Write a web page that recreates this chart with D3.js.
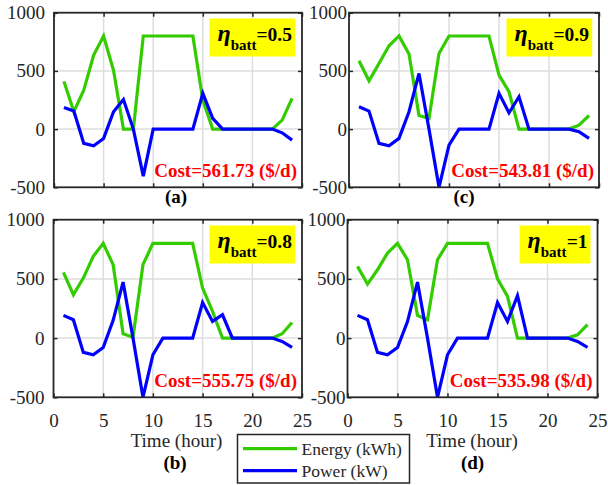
<!DOCTYPE html>
<html><head><meta charset="utf-8"><script src="https://cdn.jsdelivr.net/npm/d3@7"></script></head>
<body style="margin:0">
<svg id="chart" width="608" height="485"></svg>
<script>
// ---------------- data ----------------
const hours = [1,2,3,4,5,6,7,8,9,10,11,12,13,14,15,16,17,18,19,20,21,22,23,24];
const xTicks = [0,5,10,15,20,25];
const yTicks = [-500,0,500,1000];
const yTickLabels = ["-500","0","500","1000"];

const energyA = [410,150,335,636,800,505,0,0,800,800,800,800,800,800,250,0,0,0,0,0,0,0,77,264];
const powerA  = [185,155,-123,-143,-80,149,255,0,-404,0,0,0,0,0,307,92,0,0,0,0,0,0,-32,-95];

const energyB = [555,366,507,690,800,620,37,8,620,800,800,800,800,800,423,225,0,0,0,0,0,0,37,132];
const powerB  = [192,155,-121,-141,-79,150,473,0,-500,-141,0,0,0,0,301,141,197,0,0,0,0,0,-28,-79];

const energyC = [587,415,564,716,800,645,117,92,650,800,800,800,800,800,464,321,0,0,0,0,0,0,34,117];
const powerC  = [192,155,-123,-143,-80,149,478,0,-500,-137,0,0,0,0,307,140,278,0,0,0,0,0,-23,-80];

const energyD = [606,456,577,718,800,662,192,155,662,800,800,800,800,800,501,352,0,0,0,0,0,0,28,113];
const powerD  = [192,155,-121,-141,-79,140,473,0,-500,-141,0,0,0,0,301,141,358,0,0,0,0,0,-28,-79];

const panelLetters = ["(a)","(b)","(c)","(d)"];
const etaValues = ["0.5","0.8","0.9","1"];
const costValues = ["561.73","555.75","543.81","535.98"];
const seriesNames = ["Energy (kWh)","Power (kW)"];
const xLabel = "Time (hour)";

// ---------------- layout ----------------
const FONT = "Liberation Serif";
const GREEN = "#33cc00", BLUE = "#0000ff", AXIS = "#262626", GRID = "#dedede";
const panels = [
  {x0:54,   x1:302,   y0:12.7,  y1:187.3, energy:energyA, power:powerA, xlabels:false, letter:{x:176, y:203}},
  {x0:53.5, x1:302,   y0:219.7, y1:397.3, energy:energyB, power:powerB, xlabels:true,  letter:{x:175, y:469}, title:{x:176.5, y:447}},
  {x0:349,  x1:599,   y0:12.7,  y1:187.3, energy:energyC, power:powerC, xlabels:false, letter:{x:464, y:203}},
  {x0:347.5,x1:597.5, y0:219.7, y1:397.3, energy:energyD, power:powerD, xlabels:true,  letter:{x:472.5, y:469}, title:{x:472, y:447}}
];

const svg = d3.select("#chart");

function txt(sel, size, weight) {
  return sel.attr("font-family", FONT).attr("font-size", size).attr("font-weight", weight || "normal");
}

panels.forEach((p, i) => {
  const x = d3.scaleLinear().domain([0,25]).range([p.x0, p.x1]);
  const y = d3.scaleLinear().domain([-500,1000]).range([p.y1, p.y0]);
  const g = svg.append("g");

  // grid
  g.selectAll(".gx").data(xTicks.slice(1,-1)).enter().append("line")
    .attr("x1", d=>x(d)).attr("x2", d=>x(d)).attr("y1", p.y0).attr("y2", p.y1)
    .attr("stroke", GRID).attr("stroke-width", 1.5);
  g.selectAll(".gy").data(yTicks.slice(1,-1)).enter().append("line")
    .attr("y1", d=>y(d)).attr("y2", d=>y(d)).attr("x1", p.x0).attr("x2", p.x1)
    .attr("stroke", GRID).attr("stroke-width", 1.5);

  // axes via d3 (ticks inward)
  const axL = d3.axisLeft(y).tickValues(yTicks).tickSize(-4).tickPadding(9)
    .tickFormat((d,k)=>yTickLabels[k]);
  const axR = d3.axisRight(y).tickValues(yTicks).tickSize(-4).tickFormat("");
  const axB = d3.axisBottom(x).tickValues(xTicks).tickSize(-4).tickPadding(16)
    .tickFormat(d => p.xlabels ? String(d) : "");
  const axT = d3.axisTop(x).tickValues(xTicks).tickSize(-4).tickFormat("");

  const gl = g.append("g").attr("transform", `translate(${p.x0},0)`).call(axL);
  const gr = g.append("g").attr("transform", `translate(${p.x1},0)`).call(axR);
  const gb = g.append("g").attr("transform", `translate(0,${p.y1})`).call(axB);
  const gt = g.append("g").attr("transform", `translate(0,${p.y0})`).call(axT);
  [gl,gr,gb,gt].forEach(a => {
    txt(a, 19);
    a.select(".domain").remove();
    a.selectAll(".tick line").attr("stroke", AXIS).attr("stroke-width", 1.5);
    txt(a.selectAll("text"), 19).attr("fill", AXIS);
  });
  if (i >= 2) gl.selectAll("text").attr("x", -2);

  // lines
  const line = d3.line().x((d,k)=>x(hours[k])).y(d=>y(d));
  g.append("path").datum(p.energy).attr("d", line).attr("fill","none")
    .attr("stroke", GREEN).attr("stroke-width", 3.2).attr("stroke-linejoin","miter");
  g.append("path").datum(p.power).attr("d", line).attr("fill","none")
    .attr("stroke", BLUE).attr("stroke-width", 3.2).attr("stroke-linejoin","miter");

  // box
  g.append("rect").attr("x", p.x0).attr("y", p.y0).attr("width", p.x1-p.x0).attr("height", p.y1-p.y0)
    .attr("fill","none").attr("stroke", AXIS).attr("stroke-width", 1.8);

  // eta annotation
  const tg = g.append("g");
  const t = txt(tg.append("text"), 19.5, "bold").attr("text-anchor","end")
    .attr("x", p.x1 - 10).attr("y", p.y0 + 28).attr("fill","#000");
  t.append("tspan").text("η").attr("font-size", 24).attr("font-style","italic");
  t.append("tspan").text("batt").attr("font-size", 15).attr("dy", 9);
  t.append("tspan").text("=" + etaValues[i]).attr("font-size", 19.5).attr("dy", -9);
  const bb = t.node().getBBox();
  tg.insert("rect", "text").attr("x", bb.x - 8).attr("y", p.y0 + 5.8)
    .attr("width", bb.width + 11).attr("height", 38).attr("fill", "#ffff00");

  // cost
  txt(g.append("text"), 19, "bold").attr("text-anchor","end").attr("x", p.x1 - 5).attr("y", p.y1 - 10.5)
    .attr("fill","#ff0000").text("Cost=" + costValues[i] + " ($/d)");

  // letter
  txt(g.append("text"), 19, "bold").attr("text-anchor","middle").attr("x", p.letter.x).attr("y", p.letter.y)
    .attr("fill","#000").text(panelLetters[i]);

  if (p.title) {
    txt(g.append("text"), 19).attr("text-anchor","middle").attr("x", p.title.x).attr("y", p.title.y)
      .attr("fill", AXIS).text(xLabel);
  }
});

// legend
const lg = svg.append("g");
lg.append("rect").attr("x", 237.5).attr("y", 434.5).attr("width", 172).attr("height", 48.5)
  .attr("fill","#fff").attr("stroke", AXIS).attr("stroke-width", 1.5);
const legendColors = [GREEN, BLUE];
seriesNames.forEach((n, k) => {
  const yy = 448.7 + k*22;
  lg.append("line").attr("x1", 243).attr("x2", 297).attr("y1", yy).attr("y2", yy)
    .attr("stroke", legendColors[k]).attr("stroke-width", 3.2);
  txt(lg.append("text"), 17.5).attr("x", 301.5).attr("y", yy + 6).attr("fill", AXIS).text(n);
});
</script>
</body>
</html>
